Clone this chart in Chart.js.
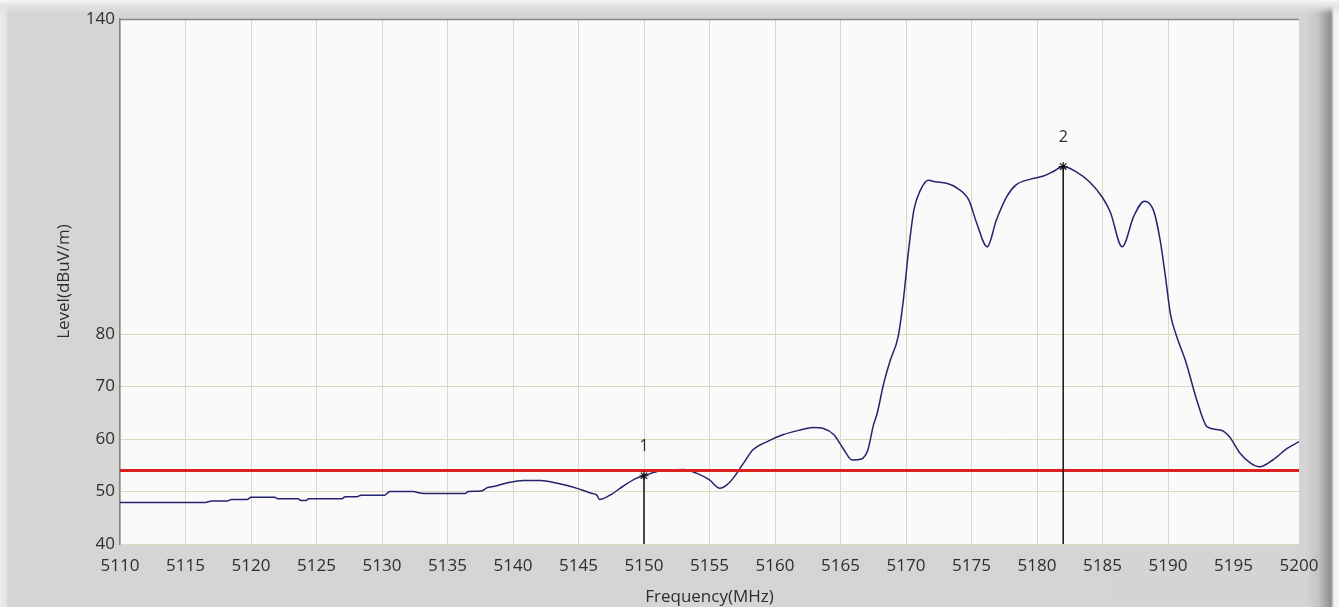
<!DOCTYPE html>
<html>
<head>
<meta charset="utf-8">
<script src="https://cdn.jsdelivr.net/npm/chart.js@4.4.1/dist/chart.umd.min.js"></script>
<style>
  html, body { margin: 0; padding: 0; }
  #wrap {
    position: relative;
    width: 1339px;
    height: 607px;
    background:
      linear-gradient(to bottom, #f6f6f6 0px, #e2e2e2 6px, rgba(212,212,212,0) 14px),
      linear-gradient(to right, #ececec 0px, #e4e4e4 6px, #d5d5d5 8px, #d4d4d4 1306px, #c4c4c4 1318px, #8e8e8e 1331px, #f2f2f2 1334px);
  }
  canvas { display: block; }
</style>
</head>
<body>
<div id="wrap"><canvas id="chart"></canvas></div>
<script>
// Measured field strength trace
const freqMHz = [
  5110.0, 5116.5, 5117.0, 5118.2, 5118.5, 5119.7, 5120.0, 5121.8, 5122.1, 5123.6,
  5123.8, 5124.2, 5124.4, 5126.9, 5127.2, 5128.1, 5128.4, 5130.2, 5130.6, 5132.4,
  5132.7, 5133.2, 5136.3, 5136.6, 5137.6, 5138.0, 5138.6, 5139.5, 5140.8, 5142.1,
  5143.3, 5144.9, 5145.9, 5146.4, 5146.6, 5147.4, 5148.4, 5149.4, 5150.0, 5151.0,
  5152.0, 5153.0, 5154.0, 5155.0, 5155.8, 5156.3, 5156.8, 5157.6, 5158.3, 5159.4,
  5160.6, 5161.9, 5162.9, 5163.7, 5164.5, 5165.2, 5165.9, 5166.6, 5167.1, 5167.5,
  5167.8, 5168.3, 5168.8, 5169.4, 5169.8, 5170.2, 5170.6, 5171.1, 5171.7, 5172.2,
  5173.1, 5173.9, 5174.8, 5175.4, 5176.2, 5176.9, 5177.7, 5178.4, 5179.5, 5180.5,
  5181.2, 5182.0, 5183.0, 5184.0, 5185.0, 5185.6, 5186.5, 5187.4, 5188.2, 5188.9,
  5189.4, 5189.8, 5190.2, 5190.6, 5191.4, 5192.2, 5193.0, 5194.0, 5194.7, 5195.5,
  5196.3, 5197.0, 5198.0, 5199.1, 5200.0
];
const levelDbuv = [
  47.9, 47.9, 48.2, 48.2, 48.5, 48.5, 48.9, 48.9, 48.6, 48.6,
  48.3, 48.3, 48.6, 48.6, 49.0, 49.0, 49.3, 49.3, 50.0, 50.0,
  49.8, 49.6, 49.6, 50.0, 50.1, 50.7, 51.0, 51.6, 52.1, 52.1,
  51.6, 50.6, 49.7, 49.3, 48.5, 49.3, 51.0, 52.5, 53.0, 53.8,
  54.1, 54.2, 53.5, 52.2, 50.6, 51.2, 52.5, 55.4, 57.9, 59.5,
  60.8, 61.7, 62.2, 62.0, 60.8, 58.2, 56.0, 56.2, 58.0, 62.5,
  64.9, 70.6, 75.0, 79.5, 86.5, 96.0, 103.6, 107.4, 109.3, 109.0,
  108.7, 107.8, 105.5, 101.1, 96.6, 101.7, 106.2, 108.4, 109.5, 110.1,
  110.9, 111.9, 110.9, 109.0, 106.0, 103.2, 96.6, 102.5, 105.3, 103.5,
  97.9, 91.0, 83.6, 80.0, 74.4, 67.4, 62.3, 61.7, 60.4, 57.3,
  55.4, 54.7, 56.0, 58.2, 59.5
];

// Limit line
const limitFreq = [5110, 5200];
const limitLevel = [54, 54];

// Markers
const markerNames = ['1', '2'];
const markerFreq = [5150, 5182];
const markerLevel = [53.0, 111.9];

// Axes
const xMin = 5110, xMax = 5200, xStep = 5;
const yMin = 40, yMax = 140;
const yTickValues = [40, 50, 60, 70, 80, 140];

const FONT = "'Open Sans', 'Noto Sans', sans-serif";

const tracePoints = freqMHz.map((f, i) => ({ x: f, y: levelDbuv[i] }));
const limitPoints = limitFreq.map((f, i) => ({ x: f, y: limitLevel[i] }));

const markerDatasets = markerFreq.map((f, i) => ({
  label: 'Marker ' + markerNames[i],
  data: [{ x: f, y: yMin }, { x: f, y: markerLevel[i] }],
  borderColor: '#111111',
  borderWidth: 1.5,
  pointRadius: [0, 4.5],
  pointStyle: 'star',
  pointBorderColor: '#111111',
  pointBorderWidth: 1.2,
  order: 0
}));

const plotBackground = {
  id: 'plotBackground',
  beforeDraw(chart) {
    const { ctx, chartArea: a } = chart;
    ctx.save();
    ctx.fillStyle = '#fafafa';
    ctx.fillRect(a.left, a.top, a.right - a.left, a.bottom - a.top);
    ctx.restore();
  },
  afterDraw(chart) {
    const { ctx, chartArea: a } = chart;
    ctx.save();
    ctx.strokeStyle = '#858585';
    ctx.lineWidth = 1.5;
    ctx.beginPath();
    ctx.moveTo(a.left, a.top + 0.5);
    ctx.lineTo(a.right, a.top + 0.5);
    ctx.stroke();
    ctx.restore();
  }
};

const markerLabels = {
  id: 'markerLabels',
  afterDatasetsDraw(chart) {
    const { ctx, scales: { x, y } } = chart;
    ctx.save();
    ctx.fillStyle = '#2b2b2b';
    ctx.font = "16px " + FONT;
    ctx.textAlign = 'center';
    ctx.textBaseline = 'middle';
    markerFreq.forEach((f, i) => {
      const px = x.getPixelForValue(f);
      const py = y.getPixelForValue(markerLevel[i]);
      ctx.fillText(markerNames[i], px, py - 29);
    });
    ctx.restore();
  }
};

new Chart(document.getElementById('chart'), {
  type: 'line',
  data: {
    datasets: [
      {
        label: 'Level',
        data: tracePoints,
        borderColor: '#24246e',
        borderWidth: 1.5,
        pointRadius: 0,
        cubicInterpolationMode: 'monotone',
        order: 2
      },
      {
        label: 'Limit',
        data: limitPoints,
        borderColor: '#dc1f1f',
        borderWidth: 3,
        pointRadius: 0,
        order: 1
      },
      ...markerDatasets
    ]
  },
  options: {
    responsive: true,
    maintainAspectRatio: false,
    animation: false,
    layout: { padding: { top: 19, right: 40, left: 0, bottom: 0 } },
    plugins: {
      legend: { display: false },
      tooltip: { enabled: false }
    },
    scales: {
      x: {
        type: 'linear',
        min: xMin,
        max: xMax,
        ticks: {
          stepSize: xStep,
          color: '#2e2e2e',
          font: { family: FONT, size: 17 },
          padding: 12,
          maxRotation: 0,
          callback: v => String(v)
        },
        grid: {
          drawTicks: false,
          lineWidth: 1,
          color: ctx => (ctx.tick && ctx.tick.value === xMax) ? 'rgba(0,0,0,0)' : '#dcd8bd'
        },
        border: { display: false },
        title: {
          display: true,
          text: 'Frequency(MHz)',
          color: '#2e2e2e',
          font: { family: FONT, size: 17 },
          padding: { top: 0, bottom: 0 }
        },
        afterFit: s => { s.height = 63; }
      },
      y: {
        type: 'linear',
        min: yMin,
        max: yMax,
        afterBuildTicks: s => { s.ticks = yTickValues.map(v => ({ value: v })); },
        ticks: {
          color: '#2e2e2e',
          font: { family: FONT, size: 17 },
          padding: 5
        },
        grid: {
          drawTicks: false,
          lineWidth: 1,
          color: '#dcd8bd'
        },
        border: { display: true, color: '#858585', width: 1.5 },
        title: {
          display: true,
          text: 'Level(dBuV/m)',
          color: '#2e2e2e',
          font: { family: FONT, size: 17 },
          padding: { top: 54, bottom: 0 }
        },
        afterFit: s => { s.width = 120; }
      }
    }
  },
  plugins: [plotBackground, markerLabels]
});
</script>
</body>
</html>
